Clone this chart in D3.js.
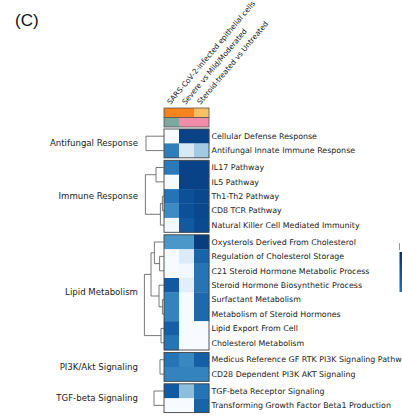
<!DOCTYPE html>
<html><head><meta charset="utf-8">
<script src="https://cdn.jsdelivr.net/npm/d3@7"></script>
<style>
html,body{margin:0;padding:0;background:#fff;overflow:hidden}
svg{display:block}
text{font-family:"DejaVu Sans",sans-serif;fill:#222}
</style></head>
<body><svg id="chart" width="402" height="419"></svg>
<script>
// ---------- data ----------
const columns = ["SARS-CoV-2-infected epithelial cells", "Severe vs Mild/Moderated", "Steroid-treated vs Untreated"];
const annotStudy = ["Study 1", "Study 1", "Study 2"];
const annotSample = ["Cells", "Patients", "Patients"];
const studyColors = {"Study 1": "#f5841f", "Study 2": "#f8bf63"};
const sampleColors = {"Cells": "#7ea79e", "Patients": "#f28cab"};

const groups = ["Antifungal Response", "Immune Response", "Lipid Metabolism", "PI3K/Akt Signaling", "TGF-beta Signaling"];
const pathways = [
  "Cellular Defense Response", "Antifungal Innate Immune Response",
  "IL17 Pathway", "IL5 Pathway", "Th1-Th2 Pathway", "CD8 TCR Pathway", "Natural Killer Cell Mediated Immunity",
  "Oxysterols Derived From Cholesterol", "Regulation of Cholesterol Storage", "C21 Steroid Hormone Metabolic Process",
  "Steroid Hormone Biosynthetic Process", "Surfactant Metabolism", "Metabolism of Steroid Hormones",
  "Lipid Export From Cell", "Cholesterol Metabolism",
  "Medicus Reference GF RTK PI3K Signaling Pathway", "CD28 Dependent PI3K AKT Signaling",
  "TGF-beta Receptor Signaling", "Transforming Growth Factor Beta1 Production"
];
const pathwayGroup = [0,0, 1,1,1,1,1, 2,2,2,2,2,2,2,2, 3,3, 4,4];
const valSars    = [0.00,0.70, 0.72,0.00,0.74,0.65,0.02, 0.60,0.00,0.00,0.84,0.68,0.68,0.82,0.74, 0.74,0.68, 0.84,0.00];
const valSevere  = [0.93,0.15, 0.93,0.93,0.88,0.88,0.84, 0.60,0.13,0.02,0.10,0.00,0.00,0.00,0.00, 0.66,0.68, 0.42,0.00];
const valSteroid = [0.93,0.36, 0.93,0.93,0.91,0.91,0.90, 0.95,0.80,0.74,0.74,0.78,0.78,0.00,0.00, 0.82,0.68, 0.74,0.80];

// dendrograms per group: [height, left, right]; leaves are pathway indices
const dendros = [
  [0.90, 0, 1],
  [0.93, [0.40, 2, 3], [0.18, [0.08, 4, 5], 6]],
  [0.98, [0.65, [0.48, 7, [0.22, 8, 9]], [0.25, 10, [0.08, 11, 12]]], [0.15, 13, 14]],
  [0.20, 15, 16],
  [0.50, 17, 18]
];

// ---------- layout ----------
const svg = d3.select("#chart");
const hmLeft = 164, cellW = 15, rowH = 14.4, gap = 2.5, hmTop = 129;
const x = d3.scaleBand().domain(d3.range(columns.length)).range([hmLeft, hmLeft + cellW * columns.length]);
const color = d3.scaleSequential(d3.interpolateBlues).domain([0, 1]);
const distX = d3.scaleLinear().domain([0, 1]).range([hmLeft, hmLeft - 20]);
const values = [valSars, valSevere, valSteroid];

const rowY = pathways.map((p, i) => hmTop + i * rowH + pathwayGroup[i] * gap);
const groupTop = groups.map((g, gi) => d3.min(rowY.filter((y, i) => pathwayGroup[i] === gi)));
const groupBot = groups.map((g, gi) => d3.max(rowY.filter((y, i) => pathwayGroup[i] === gi)) + rowH);

// panel label
svg.append("text").attr("x", 15).attr("y", 26).style("font-family", "'Liberation Sans',Arial,sans-serif")
  .style("font-size", "17px").style("fill", "#111").text("(C)");

// column labels
svg.selectAll(".collab").data(columns).join("text")
  .attr("transform", (d, i) => `translate(${x(i) + cellW / 2 - 1},105) rotate(-50)`)
  .style("font-size", "7.4px").text(d => d);

// annotation bars
const annY = [108, 117.5], annH = 9.5;
[annotStudy.map(s => studyColors[s]), annotSample.map(s => sampleColors[s])].forEach((cols, r) => {
  svg.append("g").selectAll("rect").data(cols).join("rect")
    .attr("x", (d, i) => x(i)).attr("y", annY[r]).attr("width", cellW).attr("height", annH)
    .attr("fill", d => d);
  svg.append("rect").attr("x", hmLeft).attr("y", annY[r]).attr("width", cellW * 3).attr("height", annH)
    .attr("fill", "none").attr("stroke", "#555").attr("stroke-width", 0.8);
});

// heatmap cells
const cells = [];
pathways.forEach((p, i) => values.forEach((v, c) => cells.push({r: i, c, v: v[i]})));
svg.append("g").selectAll("rect").data(cells).join("rect")
  .attr("x", d => x(d.c)).attr("y", d => rowY[d.r]).attr("width", cellW + 0.3).attr("height", rowH + 0.3)
  .attr("fill", d => color(d.v));

// group borders
svg.append("g").selectAll("rect").data(groups).join("rect")
  .attr("x", hmLeft).attr("y", (d, i) => groupTop[i]).attr("width", cellW * 3)
  .attr("height", (d, i) => groupBot[i] - groupTop[i])
  .attr("fill", "none").attr("stroke", "#444").attr("stroke-width", 0.9);

// row labels
svg.selectAll(".rowlab").data(pathways).join("text")
  .attr("x", hmLeft + cellW * 3 + 2.5).attr("y", (d, i) => rowY[i] + rowH / 2).attr("dy", "0.35em")
  .style("font-size", "7.9px").text(d => d);

// group labels
svg.selectAll(".grplab").data(groups).join("text")
  .attr("x", 138).attr("y", (d, i) => (groupTop[i] + groupBot[i]) / 2).attr("dy", "0.35em")
  .attr("text-anchor", "end").style("font-size", "8.6px").text(d => d);

// dendrograms
const dg = svg.append("g").attr("fill", "none").attr("stroke", "#555").attr("stroke-width", 0.8);
function drawNode(n) {
  if (typeof n === "number") return {y: rowY[n] + rowH / 2, x: hmLeft};
  const a = drawNode(n[1]), b = drawNode(n[2]);
  const xn = distX(n[0]);
  dg.append("path").attr("d", `M${a.x},${a.y}H${xn}V${b.y}H${b.x}`);
  return {y: (a.y + b.y) / 2, x: xn};
}
dendros.forEach(drawNode);

// partial colorbar at right edge (cut off in the original)
const grad = svg.append("defs").append("linearGradient").attr("id", "cb").attr("x1", 0).attr("x2", 0).attr("y1", 0).attr("y2", 1);
grad.selectAll("stop").data([1, 0.75]).join("stop")
  .attr("offset", (d, i) => i).attr("stop-color", d => color(d));
svg.append("rect").attr("x", 399.5).attr("y", 252).attr("width", 4).attr("height", 40).attr("fill", "url(#cb)");
svg.append("line").attr("x1", 399.5).attr("x2", 399.5).attr("y1", 243).attr("y2", 250).attr("stroke", "#999");
</script></body></html>
